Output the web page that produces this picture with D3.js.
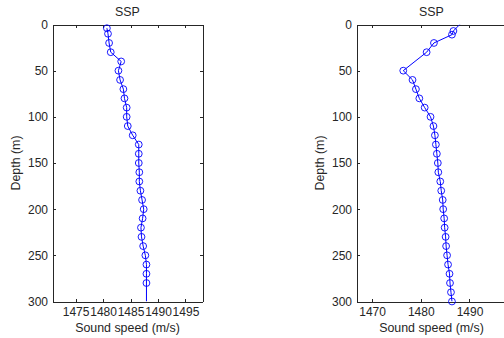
<!DOCTYPE html>
<html>
<head>
<meta charset="utf-8">
<script src="https://cdn.jsdelivr.net/npm/d3@7"></script>
<style>
  html, body { margin: 0; padding: 0; background: #fff; }
  svg { display: block; }
  text { font-family: Arial, "Liberation Sans", Helvetica, sans-serif; fill: #262626; }
</style>
</head>
<body>
<svg id="chart" width="504" height="338"></svg>
<script>
// ---------- data ----------
const depthTicks = [0, 50, 100, 150, 200, 250, 300];
const leftSpeedTicks = [1475, 1480, 1485, 1490, 1495];
const rightSpeedTicks = [1470, 1480, 1490];

// Left profile (measured points, drawn with markers)
const leftDepth = [4, 10, 20, 30, 40, 50, 60, 70, 80, 90, 100, 110, 120, 130, 140, 150,
  160, 170, 180, 190, 200, 210, 220, 230, 240, 250, 260, 270, 280];
const leftSpeed = [1480.7, 1480.9, 1481.1, 1481.4, 1483.3, 1482.8, 1483.1, 1483.7, 1483.9,
  1484.3, 1484.3, 1484.5, 1485.4, 1486.5, 1486.5, 1486.5, 1486.6, 1486.6, 1486.8, 1487.1,
  1487.4, 1487.2, 1486.9, 1487.0, 1487.3, 1487.7, 1487.9, 1487.9, 1487.9];
// line continues below the last marker
const leftTailDepth = [300];
const leftTailSpeed = [1487.9];

// Right profile
const rightDepth = [7, 11, 20, 30, 50, 60, 70, 80, 90, 100, 110, 120, 130, 140, 150, 160,
  170, 180, 190, 200, 210, 220, 230, 240, 250, 260, 270, 280, 290, 300];
const rightSpeed = [1486.7, 1486.4, 1482.7, 1481.2, 1476.4, 1478.3, 1479.0, 1479.7, 1480.8,
  1482.0, 1482.6, 1482.9, 1483.1, 1483.3, 1483.5, 1483.6, 1484.0, 1484.2, 1484.5, 1484.6,
  1484.8, 1484.9, 1485.1, 1485.2, 1485.4, 1485.6, 1485.9, 1486.0, 1486.2, 1486.4];
// line starts at the surface above the first marker
const rightHeadDepth = [0];
const rightHeadSpeed = [1488.0];

const titleText = "SSP";
const xLabelText = "Sound speed (m/s)";
const yLabelText = "Depth (m)";

// ---------- drawing ----------
const svg = d3.select("#chart");
const blue = "#0000ff";
const axisColor = "#262626";

const panels = [
  { left: 52.5, xDomain: [1470.8, 1498.1], ticks: leftSpeedTicks,
    pre: { d: [], s: [] }, main: { d: leftDepth, s: leftSpeed }, post: { d: leftTailDepth, s: leftTailSpeed } },
  { left: 356.5, xDomain: [1466.8, 1497.6], ticks: rightSpeedTicks,
    pre: { d: rightHeadDepth, s: rightHeadSpeed }, main: { d: rightDepth, s: rightSpeed }, post: { d: [], s: [] } }
];

const plotTop = 24.5, plotBottom = 301.5, plotWidth = 150;

panels.forEach((p, i) => {
  const x = d3.scaleLinear().domain(p.xDomain).range([p.left, p.left + plotWidth]);
  const y = d3.scaleLinear().domain([0, 300]).range([plotTop, plotBottom]);
  const g = svg.append("g");

  const clipId = "clip" + i;
  svg.append("clipPath").attr("id", clipId)
    .append("rect").attr("x", p.left).attr("y", plotTop).attr("width", plotWidth).attr("height", plotBottom - plotTop);

  const xb = d3.axisBottom(x).tickValues(p.ticks).tickSizeInner(-3).tickSizeOuter(0).tickPadding(6).tickFormat(d3.format("d"));
  const xt = d3.axisTop(x).tickValues(p.ticks).tickSizeInner(-3).tickSizeOuter(0).tickFormat("");
  const yl = d3.axisLeft(y).tickValues(depthTicks).tickSizeInner(-3).tickSizeOuter(0).tickPadding(4.5);
  const yr = d3.axisRight(y).tickValues(depthTicks).tickSizeInner(-3).tickSizeOuter(0).tickFormat("");

  const styleAxis = sel => {
    sel.selectAll("path, line").attr("stroke", axisColor).attr("stroke-width", 1).attr("shape-rendering", "crispEdges");
    sel.selectAll("text").attr("fill", "#262626").style("font-size", "12px")
      .style("font-family", 'Arial, "Liberation Sans", sans-serif');
  };
  g.append("g").attr("transform", `translate(0,${plotBottom})`).call(xb).call(styleAxis);
  g.append("g").attr("transform", `translate(0,${plotTop})`).call(xt).call(styleAxis);
  g.append("g").attr("transform", `translate(${p.left},0)`).call(yl).call(styleAxis);
  g.append("g").attr("transform", `translate(${p.left + plotWidth},0)`).call(yr).call(styleAxis);

  // line
  const lineData = [];
  p.pre.d.forEach((d, k) => lineData.push([p.pre.s[k], d]));
  p.main.d.forEach((d, k) => lineData.push([p.main.s[k], d]));
  p.post.d.forEach((d, k) => lineData.push([p.post.s[k], d]));
  const line = d3.line().x(d => x(d[0])).y(d => y(d[1]));
  g.append("path").datum(lineData).attr("d", line)
    .attr("fill", "none").attr("stroke", blue).attr("stroke-width", 1)
    .attr("clip-path", `url(#${clipId})`);

  // markers
  g.selectAll("circle.m").data(p.main.d.map((d, k) => [p.main.s[k], d])).enter()
    .append("circle").attr("class", "m")
    .attr("cx", d => x(d[0])).attr("cy", d => y(d[1])).attr("r", 3.4)
    .attr("fill", "none").attr("stroke", blue).attr("stroke-width", 0.9);

  const cx = p.left + plotWidth / 2;
  g.append("text").attr("x", cx).attr("y", 16).attr("text-anchor", "middle")
    .style("font-size", "12.4px").text(titleText);
  g.append("text").attr("x", cx).attr("y", 331.5).attr("text-anchor", "middle")
    .style("font-size", "12.4px").text(xLabelText);
  g.append("text").attr("transform", `translate(${p.left - 33},${(plotTop + plotBottom) / 2}) rotate(-90)`)
    .attr("text-anchor", "middle").style("font-size", "12.4px").text(yLabelText);
});
</script>
</body>
</html>
